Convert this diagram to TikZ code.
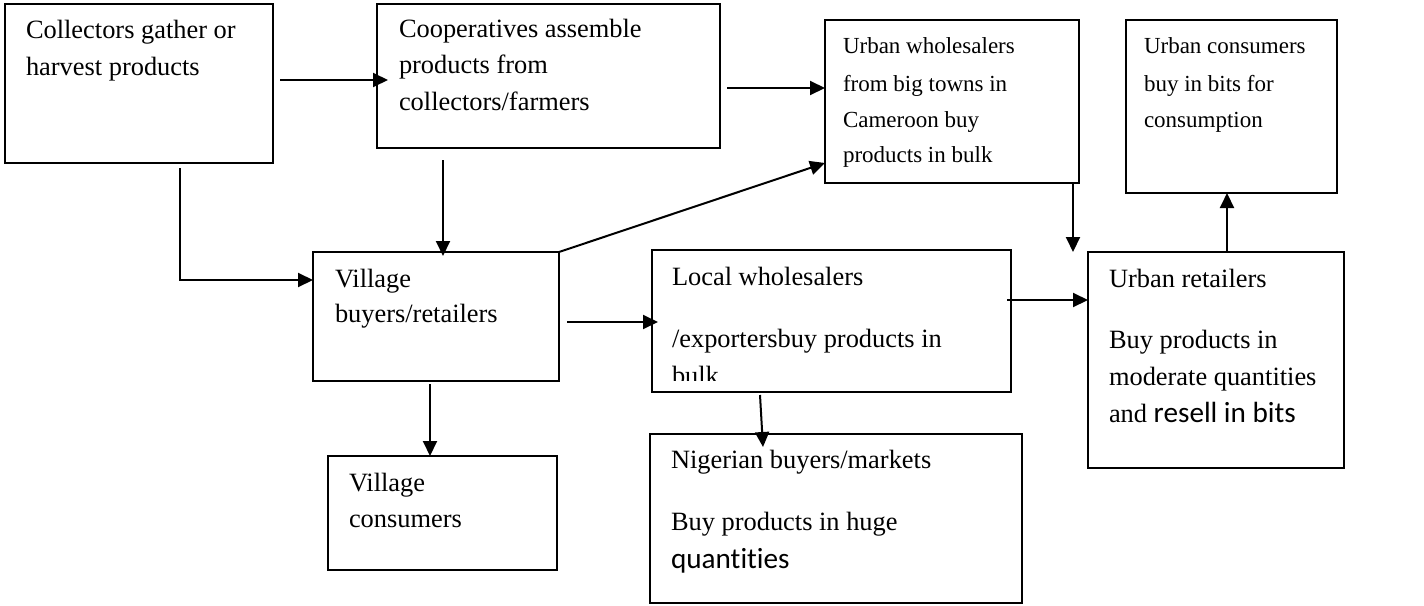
\documentclass[tikz,border=0pt]{standalone}
\usepackage{fontspec}
\setmainfont{Liberation Serif}
\newfontfamily\calfont[Ligatures={NoCommon,NoRequired,NoContextual}]{Carlito}
\usetikzlibrary{arrows.meta,calc}
\tikzset{
  boxst/.style={draw, line width=0.8pt, inner sep=0pt, outer sep=0pt, anchor=north west},
  txt/.style={anchor=base west, inner sep=0pt, outer sep=0pt, font=\fontsize{13.2}{18}\selectfont},
  smalltxt/.style={txt, font=\fontsize{11.5}{18}\selectfont},
  arr/.style={line width=1pt, -{Triangle[length=7.5pt,width=7pt]}},
}
\newcommand\mybox[5]{\node[boxst, minimum width={(#4-#2)*0.5pt}, minimum height={(#5-#3)*0.5pt}] (#1) at (#2,#3) {};}
\newcommand\tline[4]{\node[txt] (#1) at (#2,#3) {#4};}
\newcommand\sline[4]{\node[smalltxt] (#1) at (#2,#3) {#4};}
\begin{document}
\begin{tikzpicture}[x=0.5pt,y=-0.5pt]
\useasboundingbox (0,0) rectangle (1424,605);
% boxes
\mybox{coll}{5}{4}{273}{163}
\mybox{coop}{377}{4}{720}{148}
\mybox{uw}{825}{20}{1079}{183}
\mybox{uc}{1126}{20}{1337}{193}
\mybox{vb}{313}{252}{559}{381}
\mybox{lw}{652}{250}{1011}{392}
\mybox{ur}{1088}{252}{1344}{468}
\mybox{vc}{328}{456}{557}{570}
\mybox{ng}{650}{434}{1022}{603}
% texts
\tline{t1a}{26}{39}{Collectors gather or}
\tline{t1b}{26}{75}{harvest products}
\tline{t2a}{399}{37}{Cooperatives assemble}
\tline{t2b}{399}{73}{products from}
\tline{t2c}{399}{110}{collectors/farmers}
\sline{t3a}{843}{54}{Urban wholesalers}
\sline{t3b}{843}{91}{from big towns in}
\sline{t3c}{843}{127}{Cameroon buy}
\sline{t3d}{843}{162}{products in bulk}
\sline{t4a}{1144}{54}{Urban consumers}
\sline{t4b}{1144}{91}{buy in bits for}
\sline{t4c}{1144}{127}{consumption}
\tline{t5a}{335}{287}{Village}
\tline{t5b}{335}{322}{buyers/retailers}
\tline{t6a}{349}{491}{Village}
\tline{t6b}{349}{527}{consumers}
\tline{t7a}{672}{285}{Local wholesalers}
\tline{t7b}{672}{347}{/exportersbuy products in}
\begin{scope}
\clip (652,250) rectangle (1011,380);
\tline{t7c}{672}{384}{bulk}
\end{scope}
\tline{t8a}{671}{468}{Nigerian buyers/markets}
\tline{t8b}{671}{530}{Buy products in huge}
\tline{t8c}{671}{568}{{\calfont\fontsize{14.6}{18}\selectfont quantities}}
\tline{t9a}{1109}{287}{Urban retailers}
\tline{t9b}{1109}{348}{Buy products in}
\tline{t9c}{1109}{385}{moderate quantities}
\tline{t9d}{1109}{422}{and {\calfont\fontsize{14.6}{18}\selectfont resell in bits}}
% connectors
\draw[arr] ($(coll.north east)+(7,76)$) -- ($(coop.north west)+(11,76)$);
\draw[arr] ($(coop.north east)+(7,84)$) -- ($(uw.north west)+(0,68)$);
\draw[arr] ($(coll.south west)+(175,5)$) |- ($(vb.north west)+(0,28)$);
\draw[arr] ($(coop.south west)+(66,12)$) -- ($(vb.north west)+(130,4)$);
\draw[arr] (vb.north east) -- ($(uw.south west)+(0,-20)$);
\draw[arr] ($(vb.north east)+(8,70)$) -- ($(lw.north west)+(6,72)$);
\draw[arr] ($(vb.south west)+(117,3)$) -- ($(vc.north west)+(102,0)$);
\draw[arr] ($(lw.south west)+(108,3)$) -- ($(ng.north west)+(113,13)$);
\draw[arr] ($(lw.north east)+(-4,50)$) -- ($(ur.north west)+(0,48)$);
\draw[arr] ($(uw.south west)+(248,0)$) -- ($(ur.north west)+(-15,0)$);
\draw[arr] ($(ur.north west)+(139,0)$) -- ($(uc.south west)+(101,0)$);
\end{tikzpicture}
\end{document}
